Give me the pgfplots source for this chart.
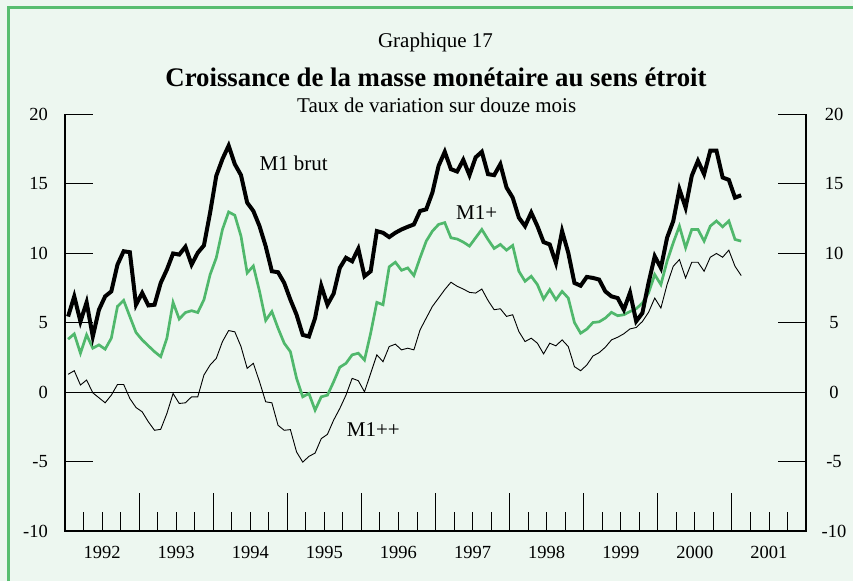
\documentclass[border=0pt]{standalone}
\usepackage{fontspec}
\setmainfont{Liberation Serif}
\usepackage{pgfplots}
\pgfplotsset{compat=1.18}
\usepackage{pgfplotstable}
\definecolor{bg}{RGB}{237,247,240}
\definecolor{frame}{RGB}{88,190,112}
\definecolor{mgreen}{RGB}{80,184,108}
\pgfplotstableread{
i brut plus pp
0 5.44 3.81 1.28
1 6.89 4.19 1.54
2 5.08 2.80 0.51
3 6.46 4.12 0.87
4 4.00 3.16 -0.05
5 5.93 3.40 -0.41
6 6.89 3.09 -0.77
7 7.25 3.88 -0.22
8 9.18 6.17 0.55
9 10.14 6.60 0.55
10 10.07 5.44 -0.46
11 6.29 4.29 -1.11
12 7.14 3.76 -1.42
13 6.24 3.33 -2.14
14 6.29 2.91 -2.75
15 7.86 2.55 -2.68
16 8.82 3.88 -1.54
17 9.98 6.46 -0.10
18 9.90 5.26 -0.82
19 10.46 5.73 -0.77
20 9.18 5.86 -0.34
21 10.03 5.73 -0.34
22 10.56 6.65 1.23
23 12.92 8.46 1.95
24 15.57 9.67 2.43
25 16.78 11.71 3.64
26 17.74 12.97 4.43
27 16.41 12.73 4.34
28 15.62 11.23 3.28
29 13.64 8.58 1.71
30 13.04 9.08 2.07
31 11.95 7.26 0.75
32 10.50 5.16 -0.70
33 8.70 5.80 -0.77
34 8.63 4.60 -2.39
35 7.86 3.52 -2.75
36 6.65 2.91 -2.70
37 5.57 0.99 -4.31
38 4.12 -0.34 -5.04
39 4.00 -0.10 -4.63
40 5.33 -1.30 -4.39
41 7.66 -0.34 -3.35
42 6.29 -0.22 -3.04
43 7.09 0.74 -2.02
44 8.94 1.79 -1.18
45 9.67 2.07 -0.22
46 9.42 2.68 0.99
47 10.32 2.80 0.82
48 8.34 2.31 0.02
49 8.70 4.24 1.35
50 11.59 6.46 2.68
51 11.47 6.29 2.19
52 11.16 9.02 3.28
53 11.47 9.35 3.45
54 11.71 8.77 3.04
55 11.90 8.94 3.16
56 12.07 8.39 3.04
57 13.04 9.67 4.48
58 13.16 10.87 5.33
59 14.37 11.59 6.17
60 16.29 12.07 6.77
61 17.30 12.20 7.38
62 16.05 11.11 7.91
63 15.88 11.02 7.62
64 16.72 10.80 7.42
65 15.62 10.51 7.18
66 16.90 11.11 7.13
67 17.30 11.71 7.42
68 15.69 10.99 6.60
69 15.62 10.34 5.93
70 16.41 10.63 6.00
71 14.73 10.22 5.45
72 14.00 10.56 5.57
73 12.56 8.70 4.36
74 11.95 7.98 3.64
75 12.92 8.34 3.88
76 11.95 7.74 3.52
77 10.80 6.70 2.75
78 10.63 7.38 3.52
79 9.30 6.65 3.33
80 11.59 7.25 3.76
81 10.03 6.77 3.28
82 7.86 5.01 1.83
83 7.66 4.24 1.54
84 8.29 4.53 1.95
85 8.22 5.01 2.60
86 8.10 5.06 2.84
87 7.25 5.33 3.23
88 6.89 5.74 3.76
89 6.77 5.50 3.95
90 5.93 5.57 4.20
91 7.16 5.80 4.55
92 5.10 6.00 4.65
93 5.69 6.41 5.08
94 7.86 7.13 5.74
95 9.78 8.46 6.77
96 8.94 7.74 6.05
97 11.11 9.42 7.74
98 12.31 10.75 9.06
99 14.60 11.95 9.54
100 13.28 10.39 8.22
101 15.57 11.71 9.35
102 16.65 11.71 9.35
103 15.69 10.87 8.70
104 17.38 11.95 9.71
105 17.38 12.32 9.98
106 15.45 11.90 9.71
107 15.28 12.32 10.22
108 14.00 10.99 9.06
109 14.17 10.87 8.39
}\data
\begin{document}
\begin{tikzpicture}
\begin{scope}[x=1pt,y=1pt]
\fill[bg] (0,0) rectangle (853,581);
\useasboundingbox (0,0) rectangle (853,581);
\draw[frame, line width=3.2pt] (8.5,0) -- (8.5,573.5) -- (853,573.5);
% titles
\node[anchor=base, inner sep=0, font=\fontsize{21}{24}\selectfont] at (435.5,533) {Graphique 17};
\node[anchor=base, inner sep=0, font=\fontsize{26.8}{30}\selectfont\bfseries] at (436,494) {Croissance de la masse monétaire au sens étroit};
\node[anchor=base, inner sep=0, font=\fontsize{21}{24}\selectfont] at (436.7,468) {Taux de variation sur douze mois};
% frame
\draw[line width=1.1pt] (65,466.7) -- (65,50) -- (806,50) -- (806,466.7);
\draw[line width=1.1pt] (65,188.9) -- (806,188.9);
\foreach \v in {-10,-5,...,20} {
  \pgfmathsetmacro\yy{50+13.89*(\v+10)}
  \draw[line width=0.9pt] (65,\yy) -- (93,\yy);
  \draw[line width=0.9pt] (806,\yy) -- (778,\yy);
  \node[anchor=east, inner sep=0, font=\fontsize{18.5}{20}\selectfont] at (48,\yy) {\v};
  \node[anchor=center, inner sep=0, font=\fontsize{18.5}{20}\selectfont] at (834,\yy) {\v};
}
\foreach \k in {1,...,39} {
  \pgfmathsetmacro\xx{65+18.525*\k}
  \pgfmathtruncatemacro\m{mod(\k,4)}
  \ifnum\m=0 \draw[line width=0.9pt] (\xx,50) -- (\xx,88); \else \draw[line width=0.9pt] (\xx,50) -- (\xx,69); \fi
}
\foreach \yr [count=\c from 0] in {1992,...,2001} {
  \node[anchor=base, inner sep=0, font=\fontsize{18.5}{20}\selectfont] at (65+74.1*\c+37.05,22.7) {\yr};
}
\end{scope}
\begin{axis}[at={(65pt,50pt)}, anchor=south west, scale only axis, width=741pt, height=416.7pt,
  xmin=-0.5, xmax=119.5, ymin=-10, ymax=20, hide axis]
\addplot[black, line width=0.9pt] table[x=i,y=pp]{\data};
\addplot[mgreen, line width=2.7pt] table[x=i,y=plus]{\data};
\addplot[black, line width=4pt] table[x=i,y=brut]{\data};
\end{axis}
\begin{scope}[x=1pt,y=1pt]
\node[anchor=base west, inner sep=0, font=\fontsize{21}{24}\selectfont] at (259.3,410.3) {M1 brut};
\node[anchor=base west, inner sep=0, font=\fontsize{21}{24}\selectfont] at (456,361.7) {M1+};
\node[anchor=base west, inner sep=0, font=\fontsize{21}{24}\selectfont] at (346.7,145) {M1++};
\end{scope}
\end{tikzpicture}
\end{document}
